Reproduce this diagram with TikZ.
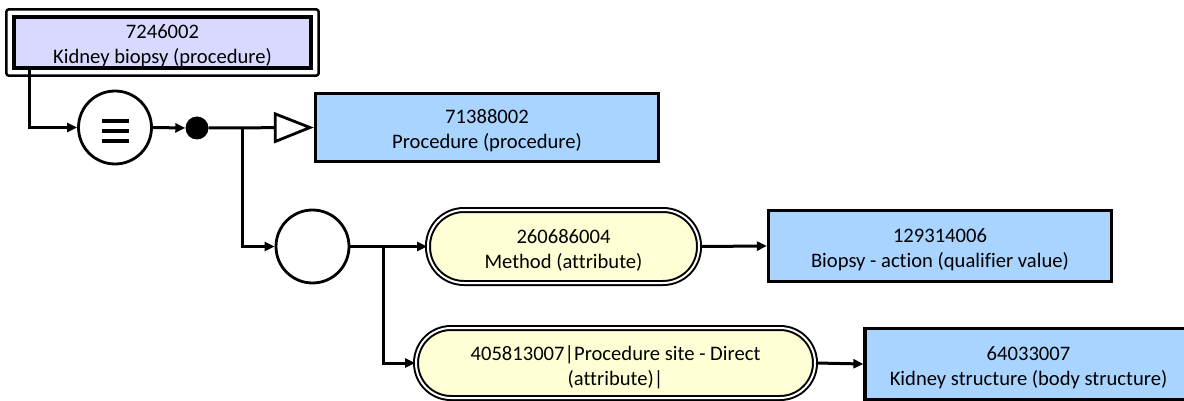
\documentclass[tikz,border=0pt]{standalone}
\usepackage{fontspec}
\setmainfont{Carlito}[Ligatures=NoCommon]
\usetikzlibrary{arrows.meta}
\definecolor{lav}{RGB}{217,217,255}
\definecolor{cblue}{RGB}{168,212,255}
\definecolor{cyel}{RGB}{255,255,214}
\newcommand\twol[3][4pt]{\raisebox{-#1}[\height][\depth]{\begin{tabular}{@{}c@{}}#2\\#3\end{tabular}}}
\begin{document}
\begin{tikzpicture}[x=1pt,y=-1pt,
  every node/.style={font=\fontsize{20.6}{25}\selectfont, align=center, inner sep=0pt},
  concept/.style={rectangle, draw, line width=3.3pt, fill=cblue},
  defbox/.style={rectangle, draw, line width=3.3pt, fill=lav},
  attr/.style={rectangle, draw, line width=2pt, double=white, double distance=2pt, fill=cyel},
  opcirc/.style={circle, draw, line width=2.8pt, fill=white, minimum size=73pt},
  conn/.style={line width=3pt},
  arr/.style={conn, -{Triangle[length=10pt,width=9pt]}},
]
\useasboundingbox (0,0) rectangle (1184,401);
% nodes
\node[defbox, minimum width=297pt, minimum height=51pt] (top) at (162.5,42.5) {\twol{7246002}{Kidney biopsy (procedure)}};
\draw[line width=2.5pt, rounded corners=2.5pt] ([xshift=-6pt,yshift=-6pt]top.south west) rectangle ([xshift=6pt,yshift=6pt]top.north east);
\node[opcirc] (c1) at (115,127.5) {};
\draw[line width=3.5pt] (102,121) -- (129,121) (102,131) -- (129,131) (102,141) -- (129,141);
\node[circle, fill=black, minimum size=23pt] (dot) at (197,128) {};
\node[concept, minimum width=343pt, minimum height=68pt] (proc) at (487,127.5) {\twol{71388002}{Procedure (procedure)}};
\coordinate (j1) at (242,128);
\node[opcirc] (c2) at (312.5,246.5) {};
\node[attr, minimum width=271pt, minimum height=73pt, rounded corners=36pt] (e1) at (563.5,246.5) {\twol{260686004}{Method (attribute)}};
\coordinate (j2) at (383,246.5);
\node[concept, minimum width=343pt, minimum height=71pt] (bio) at (940,246) {\twol{129314006}{Biopsy - action (qualifier value)}};
\node[attr, minimum width=399pt, minimum height=70pt, rounded corners=35pt] (e2) at (615.5,363) {\twol[5pt]{405813007|Procedure site - Direct}{(attribute)|}};
\node[concept, minimum width=327pt, minimum height=71pt] (kid) at (1028.5,364) {\twol{64033007}{Kidney structure (body structure)}};
% connectors
\draw[arr] ([xshift=17pt]top.south west) |- (c1.west);
\draw[arr] (c1.east) -- (dot.west);
\draw[conn, -{Triangle[open, length=40pt, width=31pt, line width=2.8pt]}] (dot.east) -- (proc.west);
\draw[arr] (j1) |- (c2.west);
\draw[arr] (c2.east) -- (e1.west);
\draw[arr] (j2) |- (e2.west);
\draw[arr] (e1.east) -- (bio.west);
\draw[arr] (e2.east) -- (kid.west);
\end{tikzpicture}
\end{document}
